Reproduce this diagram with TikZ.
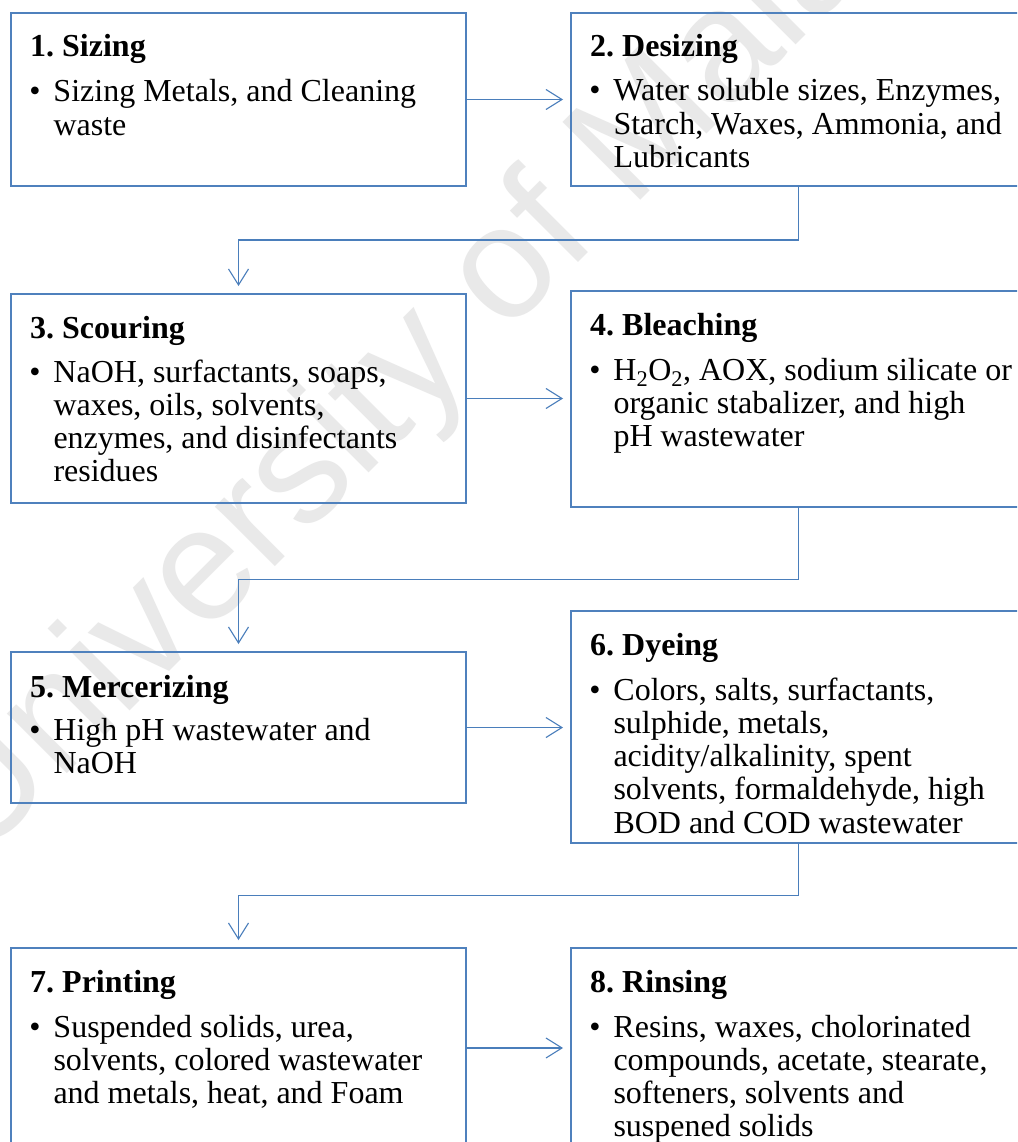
\documentclass[tikz,border=0pt]{standalone}
\usepackage{fontspec}
\setmainfont{Liberation Serif}
\newfontfamily\wmfont{Liberation Sans}
\usetikzlibrary{arrows.meta,calc}
\definecolor{boxblue}{RGB}{79,129,189}
\definecolor{linkblue}{RGB}{74,126,187}
\definecolor{wmgray}{RGB}{233,233,233}
\frenchspacing
\tikzset{
  stepbox/.style={draw=boxblue, line width=2.8pt, inner sep=0pt, outer sep=0pt, anchor=north west, minimum width=455pt},
  steptitle/.style={anchor=base west, inner sep=0pt, font=\fontsize{32}{33.3}\selectfont\bfseries},
  stepbody/.style={anchor=base west, inner sep=0pt, align=left, font=\fontsize{32}{33.3}\selectfont},
  link/.style={draw=linkblue, line width=1.1pt, -{Straight Barb[length=16pt,width=20pt]}, shorten >=8pt},
  watermark/.style={rotate=45, text=wmgray, inner sep=0pt, font=\wmfont\fontsize{160}{160}\selectfont}
}
\newcommand{\bul}{\llap{\textbullet\hspace{13pt}}}
% body nodes are anchored at the baseline of their LAST line:
% offset = 89 + (lines-1)*33.3 below the box top
\begin{document}
\begin{tikzpicture}[x=1pt,y=-1pt]
\useasboundingbox (0,0) rectangle (1017,1142);
\clip (0,0) rectangle (1017,1142);
\fill[white] (0,0) rectangle (1017,1142);
% watermark
\node[watermark] (wm) at (458,325) {University of Malaya};
% boxes
\node[stepbox, minimum height=173pt] (b1) at (11,13) {};
\node[stepbox, minimum height=173pt] (b2) at (571,13) {};
\node[stepbox, minimum height=209pt] (b3) at (11,294) {};
\node[stepbox, minimum height=216pt] (b4) at (571,291) {};
\node[stepbox, minimum height=151pt] (b5) at (11,652) {};
\node[stepbox, minimum height=232pt] (b6) at (571,611) {};
\node[stepbox, minimum height=200pt] (b7) at (11,948) {};
\node[stepbox, minimum height=215pt] (b8) at (571,948) {};
% titles
\node[steptitle] (t1) at ($(b1.north west)+(19,44)$) {1. Sizing};
\node[steptitle] (t2) at ($(b2.north west)+(19,44)$) {2. Desizing};
\node[steptitle] (t3) at ($(b3.north west)+(19,44)$) {3. Scouring};
\node[steptitle] (t4) at ($(b4.north west)+(19,44)$) {4. Bleaching};
\node[steptitle] (t5) at ($(b5.north west)+(19,45)$) {5. Mercerizing};
\node[steptitle] (t6) at ($(b6.north west)+(19,44)$) {6. Dyeing};
\node[steptitle] (t7) at ($(b7.north west)+(19,44)$) {7. Printing};
\node[steptitle] (t8) at ($(b8.north west)+(19,44)$) {8. Rinsing};
% bodies
\node[stepbody] (d1) at ($(b1.north west)+(42.3,122.3)$) {\bul Sizing Metals, and Cleaning\\waste};
\node[stepbody] (d2) at ($(b2.north west)+(42.3,154.6)$) {\bul Water soluble sizes, Enzymes,\\Starch, Waxes, Ammonia, and\\Lubricants};
\node[stepbody] (d3) at ($(b3.north west)+(42.3,187.9)$) {\bul NaOH, surfactants, soaps,\\waxes, oils, solvents,\\enzymes, and disinfectants\\residues};
\node[stepbody] (d4) at ($(b4.north west)+(42.3,155.6)$) {\bul H\textsubscript{2}O\textsubscript{2}, AOX, sodium silicate or\\organic stabalizer, and high\\pH wastewater};
\node[stepbody] (d5) at ($(b5.north west)+(42.3,121.3)$) {\bul High pH wastewater and\\NaOH};
\node[stepbody] (d6) at ($(b6.north west)+(42.3,222.2)$) {\bul Colors, salts, surfactants,\\sulphide, metals,\\acidity/alkalinity, spent\\solvents, formaldehyde, high\\BOD and COD wastewater};
\node[stepbody] (d7) at ($(b7.north west)+(42.3,155.6)$) {\bul Suspended solids, urea,\\solvents, colored wastewater\\and metals, heat, and Foam};
\node[stepbody] (d8) at ($(b8.north west)+(42.3,188.9)$) {\bul Resins, waxes, cholorinated\\compounds, acetate, stearate,\\softeners, solvents and\\suspened solids};
% connectors
\draw[link] (b1.east) -- (b1.east -| b2.west);
\draw[link] (b3.east) -- (b3.east -| b4.west);
\draw[link] (b5.east) -- (b5.east -| b6.west);
\draw[link] (b7.east) -- (b7.east -| b8.west);
\draw[link] (b2.south) |- ($(b2.south)!.5!(b3.north)$) -| (b3.north);
\draw[link] (b4.south) |- ($(b4.south)!.5!(b5.north)$) -| (b5.north);
\draw[link] (b6.south) |- ($(b6.south)!.5!(b7.north)$) -| (b7.north);
\end{tikzpicture}
\end{document}
